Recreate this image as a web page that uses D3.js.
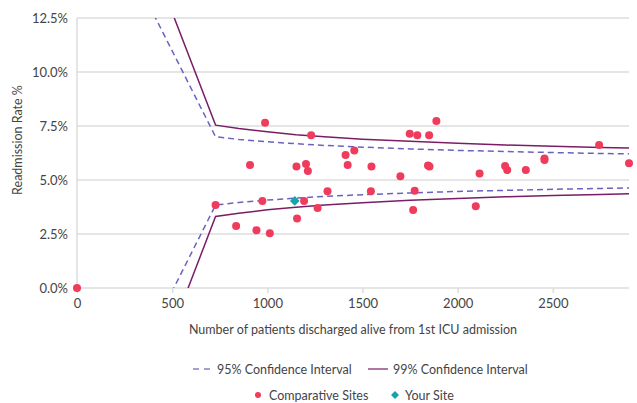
<!DOCTYPE html>
<html lang="en">
<head>
<meta charset="utf-8">
<title>Readmission funnel</title>
<script src="https://cdn.jsdelivr.net/npm/d3@7"></script>
<style>
body { margin: 0; background: #fff; }
svg text { font-family: Lato, "Open Sans", sans-serif; fill: #444; }
</style>
</head>
<body>
<script>
// comparative sites: patients discharged, readmission rate %
var siteN = [0, 728, 836, 909, 943, 974, 988, 1013, 1153, 1156, 1193, 1203, 1213, 1230, 1264,
  1316, 1411, 1422, 1457, 1544, 1547, 1699, 1748, 1766, 1774, 1788, 1844, 1852, 1850, 1888,
  2095, 2115, 2249, 2260, 2358, 2456, 2456, 2743, 2900];
var siteRate = [0, 3.84, 2.87, 5.69, 2.67, 4.03, 7.65, 2.53, 5.63, 3.22, 4.03, 5.74, 5.42, 7.07, 3.70,
  4.48, 6.16, 5.69, 6.36, 4.48, 5.62, 5.17, 7.14, 3.61, 4.50, 7.07, 5.67, 5.63, 7.07, 7.73,
  3.78, 5.30, 5.65, 5.46, 5.46, 5.99, 5.93, 6.62, 5.77];

var yourN = [1144];
var yourRate = [4.03];

// control limits
var limitN = [0, 728, 850, 1000, 1150, 1300, 1500, 1750, 2000, 2250, 2500, 2750, 2900];
var upper95 = [19.7, 7.00, 6.88, 6.77, 6.68, 6.60, 6.52, 6.44, 6.37, 6.32, 6.27, 6.23, 6.21];
var lower95 = [-8.9, 3.84, 3.96, 4.07, 4.16, 4.24, 4.32, 4.40, 4.47, 4.52, 4.57, 4.61, 4.63];
var upper99 = [24.2, 7.54, 7.38, 7.23, 7.10, 7.00, 6.89, 6.79, 6.70, 6.62, 6.56, 6.51, 6.48];
var lower99 = [-13.4, 3.31, 3.46, 3.62, 3.74, 3.84, 3.95, 4.06, 4.14, 4.22, 4.28, 4.33, 4.36];

var xTicks = [0, 500, 1000, 1500, 2000, 2500];
var yTicks = [0, 2.5, 5, 7.5, 10, 12.5];

var col95 = "#6a62bf", col99 = "#7b1d66", colSite = "#ef3b5c", colYou = "#17a3a8";

var W = 637, H = 403;
var svg = d3.select("body").append("svg").attr("width", W).attr("height", H);

var x = d3.scaleLinear().domain([0, 2900]).range([77, 629]);
var y = d3.scaleLinear().domain([0, 12.5]).range([288, 18]);

svg.append("defs").append("clipPath").attr("id", "plot")
  .append("rect").attr("x", 77).attr("y", 18).attr("width", 552).attr("height", 270);

// gridlines
svg.append("g").selectAll("line").data(yTicks).enter().append("line")
  .attr("x1", 77).attr("x2", 629)
  .attr("y1", function(d) { return y(d); }).attr("y2", function(d) { return y(d); })
  .attr("stroke", "#dcdcdc").attr("stroke-width", 1.5);

svg.append("line").attr("x1", 77).attr("x2", 77).attr("y1", 18).attr("y2", 288)
  .attr("stroke", "#dcdcdc").attr("stroke-width", 1.5);

// axes
var xAxis = svg.append("g").attr("transform", "translate(0,288)")
  .call(d3.axisBottom(x).tickValues(xTicks).tickSize(5).tickPadding(6).tickFormat(d3.format("d")));
xAxis.select(".domain").remove();
xAxis.selectAll("line").attr("stroke", "#dcdcdc").attr("stroke-width", 1.5);
xAxis.selectAll("text").style("font-size", "13px").style("fill", "#444");

var yAxis = svg.append("g").attr("transform", "translate(77,0)")
  .call(d3.axisLeft(y).tickValues(yTicks).tickSize(0).tickPadding(9)
    .tickFormat(function(d) { return d.toFixed(1) + "%"; }));
yAxis.select(".domain").remove();
yAxis.selectAll("text").style("font-size", "13px").style("fill", "#444");

svg.append("text").attr("x", 353).attr("y", 334).attr("text-anchor", "middle")
  .style("font-size", "12.5px").text("Number of patients discharged alive from 1st ICU admission");

svg.append("text").attr("transform", "translate(22,140) rotate(-90)").attr("text-anchor", "middle")
  .style("font-size", "12.5px").text("Readmission Rate %");

// limit lines
var plot = svg.append("g").attr("clip-path", "url(#plot)");
function limitLine(vals) {
  return d3.line().x(function(d, i) { return x(limitN[i]); }).y(function(d) { return y(d); })(vals);
}
[upper95, lower95].forEach(function(v) {
  plot.append("path").attr("d", limitLine(v)).attr("fill", "none")
    .attr("stroke", col95).attr("stroke-width", 1.5).attr("stroke-dasharray", "6,4");
});
[upper99, lower99].forEach(function(v) {
  plot.append("path").attr("d", limitLine(v)).attr("fill", "none")
    .attr("stroke", col99).attr("stroke-width", 1.5);
});

// points
svg.append("g").selectAll("circle").data(siteN).enter().append("circle")
  .attr("cx", function(d) { return x(d); })
  .attr("cy", function(d, i) { return y(siteRate[i]); })
  .attr("r", 4).attr("fill", colSite);

svg.append("g").selectAll("path").data(yourN).enter().append("path")
  .attr("d", d3.symbol().type(d3.symbolDiamond2).size(60))
  .attr("transform", function(d, i) { return "translate(" + x(d) + "," + y(yourRate[i]) + ")"; })
  .attr("fill", colYou);

// legend
var leg = svg.append("g").style("font-size", "12.5px");
leg.append("line").attr("x1", 193).attr("x2", 212).attr("y1", 369).attr("y2", 369)
  .attr("stroke", col95).attr("stroke-width", 1.5).attr("stroke-dasharray", "6,5").attr("opacity", 0.8);
leg.append("text").attr("x", 217).attr("y", 373.5).text("95% Confidence Interval");
leg.append("line").attr("x1", 368).attr("x2", 388).attr("y1", 369).attr("y2", 369)
  .attr("stroke", col99).attr("stroke-width", 1.5).attr("opacity", 0.8);
leg.append("text").attr("x", 393).attr("y", 373.5).text("99% Confidence Interval");
leg.append("circle").attr("cx", 258).attr("cy", 395).attr("r", 3).attr("fill", colSite);
leg.append("text").attr("x", 269).attr("y", 399.5).text("Comparative Sites");
leg.append("path").attr("d", d3.symbol().type(d3.symbolDiamond2).size(40))
  .attr("transform", "translate(395,395)").attr("fill", colYou);
leg.append("text").attr("x", 405).attr("y", 399.5).text("Your Site");
</script>
</body>
</html>
